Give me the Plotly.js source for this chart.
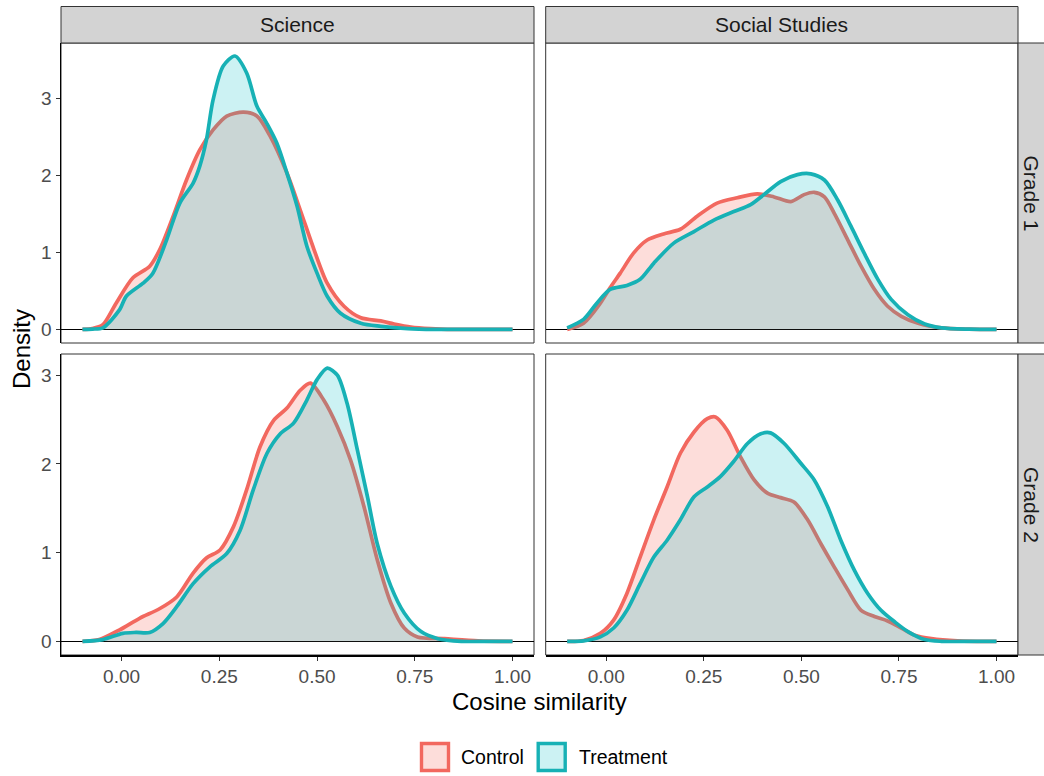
<!DOCTYPE html>
<html>
<head>
<meta charset="utf-8">
<script src="https://cdn.plot.ly/plotly-3.0.1.min.js"></script>
<style>html,body{margin:0;padding:0;background:#fff;}#chart{width:1044px;height:776px;}</style>
</head>
<body>
<div id="chart"></div>
<script>
// ---- data ----
const subjects = ['Science', 'Social Studies'];
const grades = ['Grade 1', 'Grade 2'];
const groups = ['Control', 'Treatment'];
const xTickVals = [0, 0.25, 0.5, 0.75, 1];
const xTickText = ['0.00', '0.25', '0.50', '0.75', '1.00'];
const yTickVals = [0, 1, 2, 3];

// Science, Grade 1
const sciG1CtrlX = [-0.1,-0.075,-0.048,-0.014,0.029,0.072,0.098,0.132,0.166,0.2,0.234,0.269,0.312,0.346,0.38,0.423,0.457,0.492,0.526,0.569,0.612,0.663,0.697,0.74,0.79,0.85,0.92,1.0];
const sciG1CtrlY = [0,0.01,0.06,0.34,0.67,0.82,1.04,1.47,1.94,2.33,2.59,2.77,2.82,2.77,2.51,2.03,1.55,1.04,0.6,0.3,0.15,0.11,0.07,0.03,0.01,0,0,0];
const sciG1TrtX = [-0.1,-0.075,-0.048,-0.005,0.012,0.055,0.08,0.115,0.149,0.183,0.2,0.217,0.234,0.26,0.29,0.32,0.346,0.371,0.397,0.423,0.449,0.474,0.5,0.526,0.56,0.612,0.663,0.732,0.8,0.9,1.0];
const sciG1TrtY = [0,0.004,0.02,0.256,0.43,0.6,0.73,1.16,1.64,1.9,2.12,2.46,2.98,3.42,3.55,3.33,2.9,2.68,2.42,2.03,1.6,1.08,0.73,0.43,0.21,0.08,0.04,0.01,0,0,0];

// Social Studies, Grade 1
const socG1CtrlX = [-0.1,-0.058,-0.015,0.01,0.036,0.07,0.105,0.147,0.19,0.233,0.284,0.336,0.387,0.43,0.473,0.507,0.533,0.559,0.584,0.619,0.653,0.687,0.721,0.756,0.799,0.859,0.93,1.0];
const socG1CtrlY = [0,0.08,0.34,0.54,0.73,0.99,1.16,1.24,1.3,1.47,1.64,1.71,1.76,1.72,1.66,1.75,1.78,1.72,1.51,1.16,0.82,0.52,0.3,0.17,0.08,0.02,0.003,0];
const socG1TrtX = [-0.1,-0.058,-0.024,0.01,0.053,0.087,0.122,0.173,0.225,0.276,0.327,0.37,0.404,0.447,0.49,0.524,0.559,0.593,0.627,0.661,0.696,0.73,0.773,0.816,0.859,0.93,1.0];
const socG1TrtY = [0.02,0.13,0.34,0.52,0.57,0.65,0.86,1.12,1.27,1.42,1.53,1.62,1.75,1.92,2.01,2.02,1.94,1.68,1.34,0.99,0.65,0.39,0.19,0.07,0.02,0.003,0];

// Science, Grade 2
const sciG2CtrlX = [-0.1,-0.057,-0.005,0.046,0.098,0.141,0.183,0.217,0.252,0.286,0.32,0.354,0.389,0.423,0.457,0.483,0.517,0.552,0.586,0.62,0.654,0.689,0.723,0.757,0.826,0.912,1.0];
const sciG2CtrlY = [0,0.02,0.13,0.26,0.37,0.5,0.77,0.94,1.03,1.29,1.71,2.19,2.49,2.63,2.83,2.91,2.72,2.42,2.04,1.52,0.92,0.43,0.15,0.05,0.03,0.005,0];
const sciG2TrtX = [-0.1,-0.048,0.003,0.037,0.072,0.106,0.141,0.183,0.226,0.269,0.303,0.337,0.372,0.406,0.44,0.474,0.5,0.526,0.552,0.577,0.603,0.629,0.654,0.689,0.723,0.766,0.809,0.869,0.93,1.0];
const sciG2TrtY = [0,0.02,0.09,0.1,0.1,0.2,0.39,0.65,0.84,0.99,1.25,1.71,2.12,2.34,2.46,2.72,2.95,3.08,3.0,2.68,2.16,1.63,1.1,0.62,0.32,0.11,0.03,0,0,0];

// Social Studies, Grade 2
const socG2CtrlX = [-0.1,-0.058,-0.015,0.019,0.053,0.087,0.122,0.156,0.19,0.225,0.259,0.28,0.31,0.344,0.379,0.413,0.447,0.481,0.516,0.55,0.584,0.619,0.653,0.687,0.721,0.756,0.79,0.833,0.9,1.0];
const socG2CtrlY = [0,0.01,0.09,0.24,0.54,0.95,1.37,1.74,2.12,2.36,2.51,2.53,2.38,2.08,1.82,1.67,1.62,1.57,1.37,1.1,0.84,0.58,0.35,0.28,0.23,0.15,0.07,0.03,0.005,0];
const socG2TrtX = [-0.1,-0.058,-0.015,0.019,0.053,0.087,0.122,0.156,0.19,0.225,0.259,0.293,0.327,0.362,0.396,0.421,0.456,0.498,0.533,0.567,0.601,0.636,0.67,0.704,0.739,0.773,0.816,0.859,0.93,1.0];
const socG2TrtY = [0,0.005,0.05,0.15,0.35,0.65,0.95,1.14,1.37,1.63,1.74,1.86,2.03,2.23,2.34,2.35,2.23,2.01,1.82,1.52,1.14,0.8,0.54,0.35,0.22,0.11,0.02,0,0,0];

// ---- styling ----
const lineColors = ['#F2685F', '#17B1B5'];
const fillColors = ['rgba(248,118,109,0.25)', 'rgba(0,191,196,0.2)'];
const FONT = 'Liberation Sans, Arial, Helvetica, sans-serif';

const panels = [
  {xa: 'x', ya: 'y', ctrl: [sciG1CtrlX, sciG1CtrlY], trt: [sciG1TrtX, sciG1TrtY]},
  {xa: 'x2', ya: 'y2', ctrl: [socG1CtrlX, socG1CtrlY], trt: [socG1TrtX, socG1TrtY]},
  {xa: 'x3', ya: 'y3', ctrl: [sciG2CtrlX, sciG2CtrlY], trt: [sciG2TrtX, sciG2TrtY]},
  {xa: 'x4', ya: 'y4', ctrl: [socG2CtrlX, socG2CtrlY], trt: [socG2TrtX, socG2TrtY]}
];

const traces = [];
panels.forEach(p => {
  [p.ctrl, p.trt].forEach((d, gi) => {
    traces.push({
      type: 'scatter', mode: 'lines', x: d[0], y: d[1],
      xaxis: p.xa, yaxis: p.ya, name: groups[gi], showlegend: false,
      line: {color: lineColors[gi], width: 3.7, shape: 'spline', smoothing: 0.8},
      fill: 'tozeroy', fillcolor: fillColors[gi], hoverinfo: 'skip'
    });
  });
});

const W = 1044, H = 776;
const px = v => v / W;
const py = v => 1 - v / H;

const colX = [[61, 534], [545.7, 1018]];
const rowY = [[43, 343], [354, 655]];
const xRange = [-0.155, 1.055];
const yRanges = [[-0.177, 3.719], [-0.154, 3.239]];

const layout = {
  width: W, height: H,
  margin: {l: 0, r: 0, t: 0, b: 0},
  paper_bgcolor: '#ffffff', plot_bgcolor: '#ffffff',
  font: {family: FONT, color: '#000'},
  showlegend: false,
  shapes: [], annotations: []
};

const axIdx = ['', '2', '3', '4'];
for (let r = 0; r < 2; r++) {
  for (let c = 0; c < 2; c++) {
    const i = r * 2 + c;
    const s = axIdx[i];
    const bottom = r === 1, left = c === 0;
    layout['xaxis' + s] = {
      domain: [px(colX[c][0]), px(colX[c][1])],
      range: xRange, anchor: 'y' + s, fixedrange: true,
      showgrid: false, zeroline: false,
      showline: bottom, linecolor: '#000', linewidth: 1.5,
      ticks: bottom ? 'outside' : '', ticklen: 4, tickwidth: 1, tickcolor: '#333333',
      tickvals: xTickVals, ticktext: xTickText, showticklabels: bottom,
      tickfont: {family: FONT, size: 19, color: '#4D4D4D'}
    };
    layout['yaxis' + s] = {
      domain: [py(rowY[r][1]), py(rowY[r][0])],
      range: yRanges[r], anchor: 'x' + s, fixedrange: true,
      showgrid: false, zeroline: true, zerolinecolor: '#000', zerolinewidth: 1.5,
      showline: left, linecolor: '#000', linewidth: 1.5,
      ticks: left ? 'outside' : '', ticklen: 4, tickwidth: 1, tickcolor: '#333333',
      tickvals: yTickVals, showticklabels: left,
      tickfont: {family: FONT, size: 19, color: '#4D4D4D'}
    };
    // panel border
    layout.shapes.push({type: 'rect', xref: 'x' + s + ' domain', yref: 'y' + s + ' domain',
      x0: 0, x1: 1, y0: 0, y1: 1, line: {color: '#333333', width: 1}, layer: 'below'});
  }
}

// strips (top: subjects)
for (let c = 0; c < 2; c++) {
  layout.shapes.push({type: 'rect', xref: 'paper', yref: 'paper',
    x0: px(colX[c][0]), x1: px(colX[c][1]), y0: py(43), y1: py(6.5),
    fillcolor: '#D3D3D3', line: {color: '#333333', width: 1}});
  layout.annotations.push({xref: 'paper', yref: 'paper', x: px((colX[c][0] + colX[c][1]) / 2), y: py(25),
    text: subjects[c], showarrow: false, xanchor: 'center', yanchor: 'middle',
    font: {family: FONT, size: 21, color: '#1A1A1A'}});
}
// strips (right: grades)
for (let r = 0; r < 2; r++) {
  layout.shapes.push({type: 'rect', xref: 'paper', yref: 'paper',
    x0: px(1018), x1: px(1046), y0: py(rowY[r][1]), y1: py(rowY[r][0]),
    fillcolor: '#D3D3D3', line: {color: '#333333', width: 1}});
  layout.annotations.push({xref: 'paper', yref: 'paper', x: px(1031.5), y: py((rowY[r][0] + rowY[r][1]) / 2),
    text: grades[r], showarrow: false, xanchor: 'center', yanchor: 'middle', textangle: 90,
    font: {family: FONT, size: 21, color: '#1A1A1A'}});
}

// axis titles
layout.annotations.push({xref: 'paper', yref: 'paper', x: px(22), y: py(349), text: 'Density',
  showarrow: false, textangle: -90, xanchor: 'center', yanchor: 'middle',
  font: {family: FONT, size: 24, color: '#000'}});
layout.annotations.push({xref: 'paper', yref: 'paper', x: px(539.5), y: py(701), text: 'Cosine similarity',
  showarrow: false, xanchor: 'center', yanchor: 'middle',
  font: {family: FONT, size: 24, color: '#000'}});

// legend
const keyLeft = [420, 536.7];
const labelLeft = [459, 576.5];
groups.forEach((g, gi) => {
  layout.shapes.push({type: 'rect', xref: 'paper', yref: 'paper',
    x0: px(keyLeft[gi] + 1.5), x1: px(keyLeft[gi] + 28.5), y0: py(770.5), y1: py(743.5),
    fillcolor: fillColors[gi], line: {color: lineColors[gi], width: 3.4}});
  layout.annotations.push({xref: 'paper', yref: 'paper', x: px(labelLeft[gi]), y: py(757),
    text: g, showarrow: false, xanchor: 'left', yanchor: 'middle',
    font: {family: FONT, size: 19.5, color: '#000'}});
});

Plotly.newPlot('chart', traces, layout, {staticPlot: true, displayModeBar: false});
</script>
</body>
</html>
